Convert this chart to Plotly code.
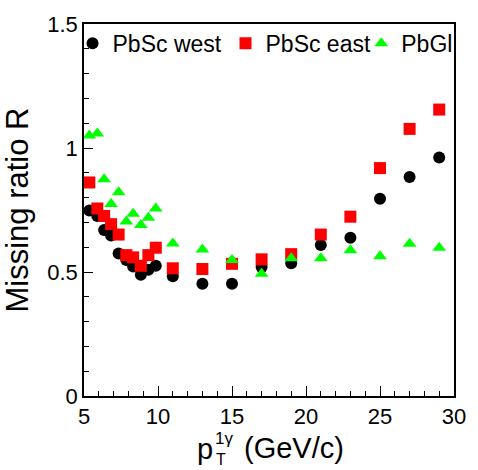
import plotly.graph_objects as go

pt = [5.36, 5.9, 6.36, 6.83, 7.34, 7.86, 8.32, 8.84, 9.35, 9.85,
      11, 13, 15, 17, 19, 21, 23, 25, 27, 29]
west = [0.748, 0.726, 0.669, 0.647, 0.575, 0.548, 0.522, 0.489, 0.509, 0.525,
        0.483, 0.453, 0.453, 0.520, 0.535, 0.609, 0.638, 0.795, 0.883, 0.962]
east = [0.861, 0.756, 0.726, 0.693, 0.651, 0.568, 0.559, 0.525, 0.568, 0.598,
        0.515, 0.512, 0.533, 0.551, 0.572, 0.651, 0.723, 0.919, 1.077, 1.155]
pbgl = [1.050, 1.058, 0.874, 0.774, 0.822, 0.704, 0.735, 0.690, 0.719, 0.756,
        0.615, 0.591, 0.548, 0.493, 0.555, 0.555, 0.588, 0.564, 0.614, 0.598]

FONT = "Liberation Sans, Arial, Helvetica, sans-serif"

fig = go.Figure()
fig.add_trace(go.Scatter(x=pt, y=west, mode="markers", name="PbSc west", legend="legend",
                         showlegend=True,
                         marker=dict(symbol="circle", size=12, color="black")))
fig.add_trace(go.Scatter(x=pt, y=east, mode="markers", name="PbSc east", legend="legend2",
                         showlegend=True,
                         marker=dict(symbol="square", size=12, color="#ff0000")))
fig.add_trace(go.Scatter(x=pt, y=pbgl, mode="markers", name="PbGl", legend="legend3",
                         showlegend=True,
                         marker=dict(symbol="triangle-up", size=12, color="#00ff00")))

axis_common = dict(showgrid=False, zeroline=False, showline=True, linecolor="black",
                   linewidth=1.5, mirror=True, ticks="inside", tickcolor="black",
                   tickwidth=1, tickfont=dict(family=FONT, size=22, color="black"))

fig.update_xaxes(range=[5, 30], dtick=5, tick0=5, ticklen=10,
                 minor=dict(dtick=1, ticklen=5, ticks="inside", tickcolor="black"),
                 **axis_common)
fig.update_yaxes(range=[0, 1.5], dtick=0.5, tick0=0, ticklen=9,
                 minor=dict(dtick=0.1, ticklen=5, ticks="inside", tickcolor="black"),
                 title=dict(text="Missing ratio R", font=dict(family=FONT, size=31, color="black"),
                            standoff=14),
                 **axis_common)

# x-axis title with stacked sub/superscript
fig.add_annotation(xref="paper", yref="paper", x=(205 - 78) / 387, y=-(450 - 396) / 381,
                   text="p", showarrow=False, xanchor="center", yanchor="middle",
                   font=dict(family=FONT, size=29, color="black"))
fig.add_annotation(xref="paper", yref="paper", x=(213 - 78) / 387, y=-(440 - 396) / 381,
                   text="1γ", showarrow=False, xanchor="left", yanchor="middle",
                   font=dict(family=FONT, size=17, color="black"))
fig.add_annotation(xref="paper", yref="paper", x=(214 - 78) / 387, y=-(461 - 396) / 381,
                   text="T", showarrow=False, xanchor="left", yanchor="middle",
                   font=dict(family=FONT, size=16, color="black"))
fig.add_annotation(xref="paper", yref="paper", x=(243 - 78) / 387, y=-(449 - 396) / 381,
                   text="(GeV/c)", showarrow=False, xanchor="left", yanchor="middle",
                   font=dict(family=FONT, size=29, color="black"))

leg = dict(orientation="h", y=1.006, yanchor="top", xanchor="left", visible=True,
           bgcolor="rgba(0,0,0,0)", font=dict(family=FONT, size=23, color="black"))

fig.update_layout(
    width=478, height=470,
    margin=dict(l=78, r=13, t=15, b=74),
    plot_bgcolor="white", paper_bgcolor="white",
    font=dict(family=FONT, color="black"),
    showlegend=True,
    legend=dict(x=(66 - 78) / 387, **leg),
    legend2=dict(x=(226 - 78) / 387, **leg),
    legend3=dict(x=(368 - 78) / 387, **leg),
)

fig.write_html("out.html")
